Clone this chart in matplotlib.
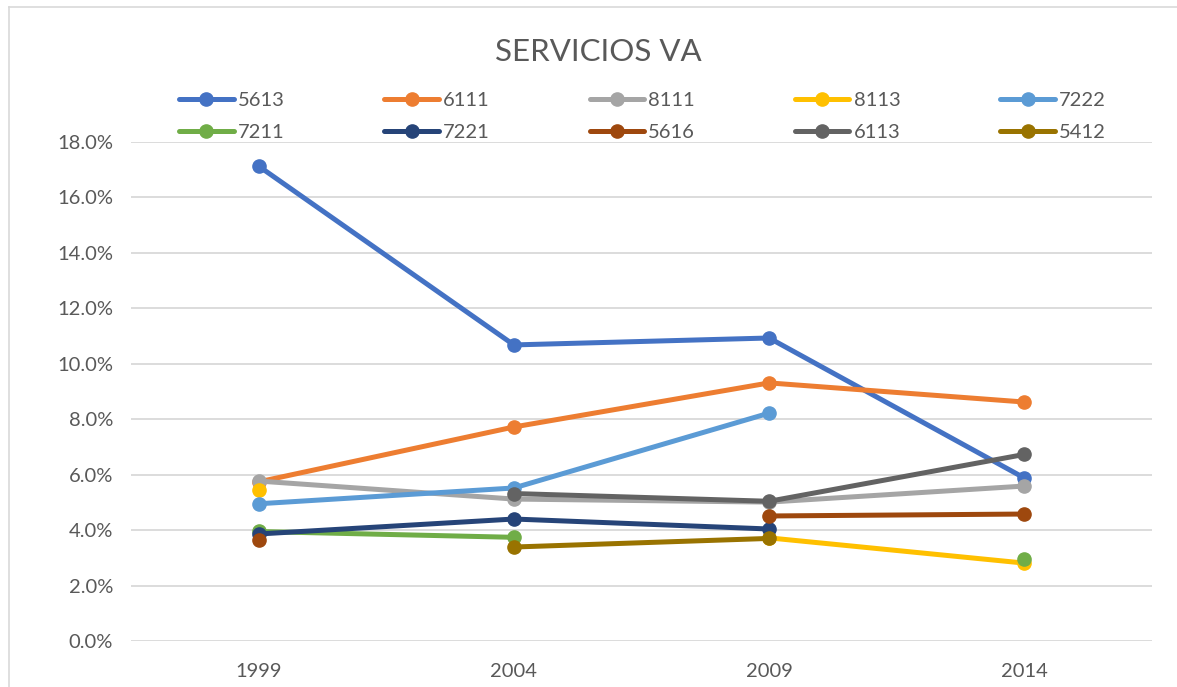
import numpy as np
import matplotlib.pyplot as plt
from matplotlib.lines import Line2D

nan = np.nan

anios = ['1999', '2004', '2009', '2014']

series = ['5613', '6111', '8111', '8113', '7222',
          '7211', '7221', '5616', '6113', '5412']

v_5613 = [17.13, 10.68, 10.93, 5.88]
v_6111 = [5.74, 7.72, 9.31, 8.62]
v_8111 = [5.77, 5.12, 5.01, 5.59]
v_8113 = [5.45, nan, 3.72, 2.81]
v_7222 = [4.95, 5.52, 8.22, nan]
v_7211 = [3.95, 3.74, nan, 2.97]
v_7221 = [3.86, 4.40, 4.04, nan]
v_5616 = [3.63, nan, 4.51, 4.58]
v_6113 = [nan, 5.32, 5.04, 6.73]
v_5412 = [nan, 3.39, 3.70, nan]

valores = [v_5613, v_6111, v_8111, v_8113, v_7222,
           v_7211, v_7221, v_5616, v_6113, v_5412]

colores = ['#4472C4', '#ED7D31', '#A5A5A5', '#FFC000', '#5B9BD5',
           '#70AD47', '#264478', '#9E480E', '#636363', '#997300']

plt.rcParams['font.family'] = ['Lato', 'DejaVu Sans']

W, H = 1177, 687
fig = plt.figure(figsize=(W / 100, H / 100), dpi=100)
ax = fig.add_axes([131 / W, 1 - 641 / H, (1152 - 131) / W, (641 - 142) / H])

x = np.arange(len(anios))
lineas = []
for nombre, vals, col in zip(series, valores, colores):
    ln, = ax.plot(x, vals, color=col, linewidth=3.6, marker='o', markersize=9.5,
                  solid_capstyle='round', label=nombre)
    lineas.append(ln)

ax.set_xlim(-0.5, 3.5)
ax.set_ylim(0, 18)
ax.set_xticks(x)
ax.set_xticklabels(anios)
ax.set_yticks(np.arange(0, 18.1, 2))
ax.set_yticklabels([f'{t:.1f}%' for t in np.arange(0, 18.1, 2)])
ax.tick_params(length=0, labelsize=14.5, colors='#595959', pad=13)
ax.tick_params(axis='x', pad=16)
ax.grid(axis='y', color='#D9D9D9', linewidth=1.3)
ax.set_axisbelow(True)
for s in ax.spines.values():
    s.set_visible(False)

fig.text(598 / W, 1 - 52 / H, 'SERVICIOS VA', ha='center', va='center',
         fontsize=22.5, color='#595959')

# marco del grafico
fig.add_artist(Line2D([9 / W, 1], [1 - 7 / H, 1 - 7 / H], color='#D9D9D9', linewidth=1.2))
fig.add_artist(Line2D([9 / W, 9 / W], [0, 1 - 7 / H], color='#D9D9D9', linewidth=1.2))

# leyenda por filas (matplotlib llena por columnas)
orden = [0, 5, 1, 6, 2, 7, 3, 8, 4, 9]
fig.legend(handles=[lineas[i] for i in orden], ncol=5, loc='center left',
           bbox_to_anchor=(161 / W, 1 - 116.5 / H), frameon=False,
           fontsize=14.5, labelcolor='#595959', handlelength=2.7,
           handletextpad=0.2, columnspacing=4.97, labelspacing=0.78)

fig.savefig('out.png', dpi=100)
